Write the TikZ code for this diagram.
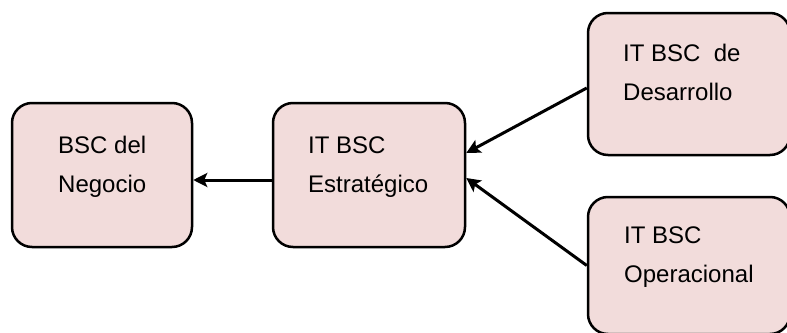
\documentclass[tikz,border=0pt]{standalone}
\usepackage{fontspec}
\setmainfont{Liberation Sans}
\usetikzlibrary{arrows.meta,positioning}
\definecolor{boxfill}{HTML}{F2DCDB}
\tikzset{
  bscbox/.style={draw=black, fill=boxfill, line width=2.5pt,
    rounded corners=20pt, inner sep=0pt, minimum width=#1},
  bscbox/.default=180pt,
  bsctext/.style={anchor=base west, inner sep=0pt, align=left,
    font=\fontsize{24}{38.5}\selectfont},
  flow/.style={line width=3pt,
    -{Stealth[length=14pt,width=14pt,inset=3pt]}}
}
\begin{document}
\begin{tikzpicture}[x=1pt,y=-1pt]
  \useasboundingbox (0,0) rectangle (787,332);
  \clip (0,0) rectangle (787,332);
  \fill[white] (0,0) rectangle (787,332);

  % scorecard boxes
  \node[bscbox=180pt, minimum height=144pt] (neg) at (102,175) {};
  \node[bscbox=192pt, minimum height=144pt] (est) at (369,175) {};
  \node[bscbox=202pt, minimum height=142pt] (des) at (689,84) {};
  \node[bscbox=202pt, minimum height=137pt] (ope) at (689,265.5) {};

  % box captions (anchored on the baseline of the second line)
  \node[bsctext] (tneg) at (58,192) {BSC del\\Negocio};
  \node[bsctext] (test) at (308,192) {IT BSC\\Estratégico};
  \node[bsctext] (tdes) at (623,100) {IT BSC\ \ de\\Desarrollo};
  \node[bsctext] (tope) at (624,282) {IT BSC\\Operacional};

  % alignment links
  \draw[flow] ([yshift=-5pt]est.west) -- ([yshift=-5pt]neg.east);
  \draw[flow] ([yshift=-4pt]des.west) -- ([yshift=22pt]est.east);
  \draw[flow] (ope.west) -- ([yshift=-3pt]est.east);
\end{tikzpicture}
\end{document}
